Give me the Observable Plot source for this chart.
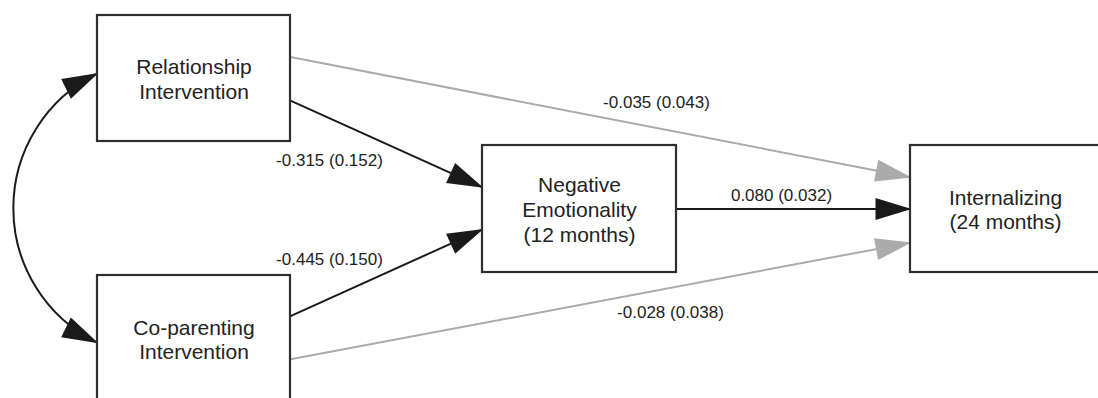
<!DOCTYPE html>
<html>
<head>
<meta charset="utf-8">
<script src="https://cdn.jsdelivr.net/npm/d3@7"></script>
<script src="https://cdn.jsdelivr.net/npm/@observablehq/plot@0.6"></script>
<style>
  html, body { margin: 0; padding: 0; background: #fff; overflow: hidden; }
</style>
</head>
<body>
<div id="chart"></div>
<script>
// ---- data ----
const nodeNames = ["Relationship\nIntervention", "Co-parenting\nIntervention", "Negative\nEmotionality\n(12 months)", "Internalizing\n(24 months)"];
const pathFrom = [0, 1, 2, 0, 1];
const pathTo = [2, 2, 3, 3, 3];
const estimates = [-0.315, -0.445, 0.080, -0.035, -0.028];
const stdErrors = [0.152, 0.150, 0.032, 0.043, 0.038];
const covFrom = [0];
const covTo = [1];

// ---- layout (diagram geometry) ----
const W = 1098, H = 398;
const boxX1 = [97, 97, 482, 910];
const boxX2 = [290, 290, 676, 1100];
const boxY1 = [15, 275, 145, 145];
const boxY2 = [141, 402, 272, 272];
const portOut = [0.675, 0.32, 0.5, 0.33, 0.66]; // share of source box height
const portIn = [0.33, 0.66, 0.5, 0.25, 0.765];  // share of target box height
const covPortFrom = 0.46, covPortTo = 0.53;
const labelX = [329, 329, 781, 656, 670];
const labelY = [160, 259, 195, 102, 312];

const nodes = nodeNames.map((name, i) => ({
  name, x1: boxX1[i], x2: boxX2[i], y1: boxY1[i], y2: boxY2[i],
  cx: (boxX1[i] + boxX2[i]) / 2, cy: (boxY1[i] + boxY2[i]) / 2
}));
const edges = pathFrom.map((f, i) => {
  const s = nodes[f], t = nodes[pathTo[i]];
  return {
    x1: s.x2, y1: s.y1 + portOut[i] * (s.y2 - s.y1),
    x2: t.x1, y2: t.y1 + portIn[i] * (t.y2 - t.y1),
    est: estimates[i], se: stdErrors[i],
    sig: Math.abs(estimates[i] / stdErrors[i]) > 1.96,
    lx: labelX[i], ly: labelY[i]
  };
});
const covs = covFrom.map((f, i) => {
  const s = nodes[f], t = nodes[covTo[i]];
  return {x1: s.x1, y1: s.y1 + covPortFrom * (s.y2 - s.y1), x2: t.x1, y2: t.y1 + covPortTo * (t.y2 - t.y1)};
});

// filled triangular arrowhead marker
function triHead(reverse) {
  return (color) => {
    const m = d3.create("svg:marker")
      .attr("viewBox", "0 -11 36 22")
      .attr("refX", 35).attr("refY", 0)
      .attr("markerWidth", 36).attr("markerHeight", 22)
      .attr("markerUnits", "userSpaceOnUse")
      .attr("orient", reverse ? "auto-start-reverse" : "auto")
      .attr("overflow", "visible");
    m.append("path").attr("d", "M0,-11L36,0L0,11Z").attr("fill", color).attr("stroke", "none");
    return m.node();
  };
}
// circular-arc curve between the two link ends
function arcCurve(bendDeg) {
  return (context) => {
    let pts = [];
    return {
      areaStart() {}, areaEnd() {},
      lineStart() { pts = []; },
      point(x, y) { pts.push([+x, +y]); },
      lineEnd() {
        const [[x0, y0], [x1, y1]] = pts;
        const dx = x1 - x0, dy = y1 - y0, c = Math.hypot(dx, dy);
        const t = bendDeg * Math.PI / 180;
        const r = c / 2 / Math.sin(t);
        const h = r * Math.cos(t);
        const nx = -dy / c, ny = dx / c;
        const cx = (x0 + x1) / 2 - nx * h, cy = (y0 + y1) / 2 - ny * h;
        const a0 = Math.atan2(y0 - cy, x0 - cx), a1 = Math.atan2(y1 - cy, x1 - cx);
        context.moveTo(x0, y0);
        context.arc(cx, cy, r, a0, a1, true);
      }
    };
  };
}

const fmt = (v) => v.toFixed(3);

const chart = Plot.plot({
  width: W, height: H, margin: 0,
  x: {domain: [0, W], range: [0, W], axis: null},
  y: {domain: [0, H], range: [0, H], axis: null},
  style: {fontFamily: "'Liberation Sans', Arial, sans-serif", background: "#fff", color: "#222"},
  marks: [
    Plot.link(edges.filter(d => !d.sig), {x1: "x1", y1: "y1", x2: "x2", y2: "y2", stroke: "#ababab", strokeWidth: 2, markerEnd: triHead(false)}),
    Plot.link(edges.filter(d => d.sig), {x1: "x1", y1: "y1", x2: "x2", y2: "y2", stroke: "#1a1a1a", strokeWidth: 2, markerEnd: triHead(false)}),
    Plot.link(covs, {x1: "x1", y1: "y1", x2: "x2", y2: "y2", curve: arcCurve(64), stroke: "#1a1a1a", strokeWidth: 2, markerStart: triHead(true), markerEnd: triHead(false)}),
    Plot.rect(nodes, {x1: "x1", x2: "x2", y1: "y1", y2: "y2", fill: "#fff", stroke: "#2e2e2e", strokeWidth: 2.2}),
    Plot.text(nodes, {x: "cx", y: "cy", text: "name", fontSize: 21, lineHeight: 1.19, fill: "#222"}),
    Plot.text(edges, {x: "lx", y: "ly", text: d => `${fmt(d.est)} (${fmt(d.se)})`, fontSize: 17, fill: "#222"})
  ]
});
document.getElementById("chart").appendChild(chart);
</script>
</body>
</html>
